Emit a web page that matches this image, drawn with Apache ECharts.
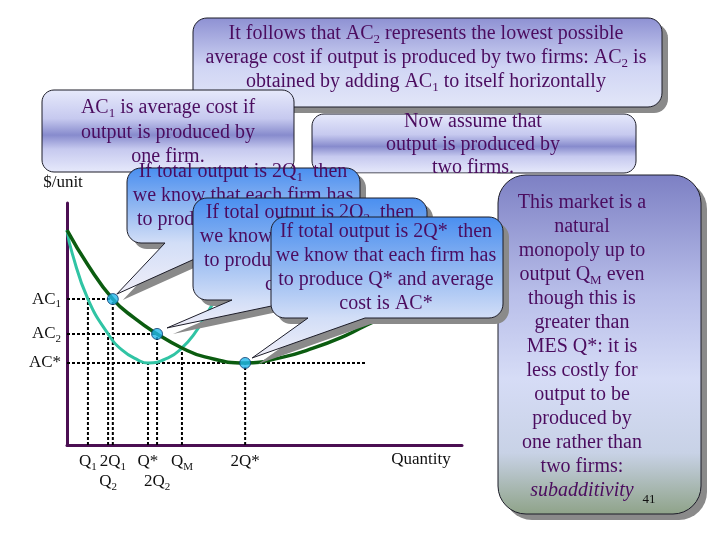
<!DOCTYPE html>
<html>
<head>
<meta charset="utf-8">
<script src="https://cdn.jsdelivr.net/npm/echarts@6/dist/echarts.min.js"></script>
<style>
  html, body { margin: 0; background: #fff; }
  #chart { width: 720px; height: 540px; }
</style>
</head>
<body>
<div id="chart"></div>
<script>
// Natural monopoly / subadditivity slide, redrawn with echarts.
// Curves are in chart units: quantity 0..100 on x, $/unit 0..100 on y.

const SERIF = "'Liberation Serif', 'Times New Roman', serif";
const INK = '#4b0c5f';

// average cost if one firm produces everything (teal)
const oneFirmQ  = [0, 1.3, 5.3, 10.4, 13.9, 18.0, 20.5, 25.6, 29.1, 32.4, 34.9, 37.0, 40.0];
const oneFirmAC = [88.8, 79.3, 60.3, 45.9, 39.3, 35.1, 33.9, 36.0, 40.1, 46.3, 52.9, 58.7, 68.0];
// average cost if output is split between two firms (dark green)
const twoFirmQ  = [0, 5.3, 11.6, 17.0, 22.8, 29.1, 34.9, 45.1, 53.9, 62.3, 70.9, 74.9, 80.0, 88.0];
const twoFirmAC = [88.8, 74.4, 60.3, 52.5, 45.9, 40.1, 36.4, 33.9, 36.0, 40.0, 45.5, 48.8, 53.0, 62.0];

// highlighted points on the two-firm curve (2Q1, 2Q2, 2Q*)
const dotQ  = [11.6, 22.8, 45.1];
const dotAC = [60.3, 45.9, 33.9];

// cost levels on the y axis, with the x where the dotted guide stops
const acLabels   = ['AC{s|1}', 'AC{s|2}', 'AC*'];
const acLevels   = [60.3, 45.9, 33.9];
const acGuideEnd = [11.6, 22.8, 75.9];

// quantity marks on the x axis (row 1 is the second line of labels)
const qLabels   = ['Q{s|1}', '2Q{s|1}', 'Q*', 'Q{s|M}', '2Q*', 'Q{s|2}', '2Q{s|2}'];
const qValues   = [5.3, 11.6, 20.5, 29.1, 45.1, 10.4, 22.8];
const qRow      = [0, 0, 0, 0, 0, 1, 1];
const qGuideTop = [60.3, 60.3, 33.9, 40.1, 33.9, 45.9, 45.9];

// slide notes
const topNote = [
  'It follows that AC{s|2} represents the lowest possible',
  'average cost if output is produced by two firms: AC{s|2} is',
  'obtained by adding AC{s|1} to itself horizontally'
];
const oneFirmNote = ['AC{s|1} is average cost if', 'output is produced by', 'one firm.'];
const twoFirmNote = ['Now assume that', 'output is produced by', 'two firms.'];
const sideNote = [
  'This market is a', 'natural', 'monopoly up to', 'output Q{s|M} even',
  'though this is', 'greater than', 'MES Q*: it is', 'less costly for',
  'output to be', 'produced by', 'one rather than', 'two firms:', '{i|subadditivity}'
];
const calloutQ1 = ['If total output is 2Q{s|1}  then', 'we know that each firm has', 'to produce Q{s|1} and average', 'cost is AC{s|1}'];
const calloutQ2 = ['If total output is 2Q{s|2}  then', 'we know that each firm has', 'to produce Q{s|2} and average', 'cost is AC{s|2}'];
const calloutQs = ['If total output is 2Q*  then', 'we know that each firm has', 'to produce Q* and average', 'cost is AC*'];

const chart = echarts.init(document.getElementById('chart'));

function guide(data) {
  return {
    type: 'line', data, symbol: 'none', silent: true, z: 1,
    lineStyle: { color: '#000', width: 2, type: [3, 2] }
  };
}
function curve(qs, acs, color, width) {
  return {
    type: 'line', data: qs.map((q, i) => [q, acs[i]]), smooth: 0.5,
    symbol: 'none', silent: true, z: 2,
    lineStyle: { color, width }
  };
}

const series = [];
acLevels.forEach((lvl, i) => series.push(guide([[0, lvl], [acGuideEnd[i], lvl]])));
qValues.forEach((q, i) => series.push(guide([[q, 0], [q, qGuideTop[i]]])));
series.push(curve(oneFirmQ, oneFirmAC, '#30c4a4', 3));
series.push(curve(twoFirmQ, twoFirmAC, '#0b5c10', 3.5));
series.push({
  type: 'scatter', data: dotQ.map((q, i) => [q, dotAC[i]]), symbolSize: 11, z: 5, silent: true,
  itemStyle: { color: '#22b8ec', borderColor: '#0b3a6e', borderWidth: 1 }
});

const axisCommon = {
  type: 'value', min: 0, max: 100,
  axisLine: { show: true, onZero: false, lineStyle: { color: '#4b0f52', width: 3 } },
  axisTick: { show: false }, axisLabel: { show: false }, splitLine: { show: false }
};

chart.setOption({
  animation: false,
  grid: { left: 67, right: 258, top: 203, bottom: 95 },
  xAxis: axisCommon,
  yAxis: axisCommon,
  series
});

// ---- annotations -------------------------------------------------------
const px = (q, c) => chart.convertToPixel({ gridIndex: 0 }, [q, c]);

function textStyle(text, x, y, size, color, align) {
  const sub = Math.round(size * 0.65);
  return {
    text, x, y, fill: color,
    fontSize: size, fontFamily: SERIF, lineHeight: size + 4,
    align, textAlign: align, verticalAlign: 'middle', textVerticalAlign: 'middle',
    rich: {
      s: { fontSize: sub, fontFamily: SERIF, fill: color, lineHeight: sub + 1, verticalAlign: 'bottom' },
      i: { fontSize: size, fontFamily: SERIF, fontStyle: 'italic', fill: color, lineHeight: size + 4 }
    }
  };
}

// rounded box outline, optionally with a speech pointer on the bottom edge
function outline(b, ptr) {
  const [x, y, w, h, r] = b;
  const pts = [];
  const arc = (cx, cy, a0, a1) => {
    for (let i = 0; i <= 8; i++) {
      const a = a0 + (a1 - a0) * i / 8;
      pts.push([cx + r * Math.cos(a), cy + r * Math.sin(a)]);
    }
  };
  arc(x + r, y + r, Math.PI, 1.5 * Math.PI);
  arc(x + w - r, y + r, 1.5 * Math.PI, 2 * Math.PI);
  arc(x + w - r, y + h - r, 0, 0.5 * Math.PI);
  if (ptr) pts.push([ptr.x2, y + h], [ptr.tx, ptr.ty], [ptr.x1, y + h]);
  arc(x + r, y + h - r, 0.5 * Math.PI, Math.PI);
  return pts;
}

const graphics = [];
let z = 10;

function addBox(b, fill, ptr, shadow = true) {
  const pts = outline(b, ptr);
  if (shadow) {
    graphics.push({ type: 'polygon', z: z++, silent: true,
      shape: { points: pts.map(p => [p[0] + 6, p[1] + 6]) }, style: { fill: '#8a8a8a' } });
  }
  graphics.push({ type: 'polygon', z: z++, silent: true,
    shape: { points: pts }, style: { fill, stroke: '#1c1c28', lineWidth: 1 } });
}
function addLines(lines, cx, y0, step, size) {
  lines.forEach((t, i) => graphics.push({
    type: 'text', z: z++, silent: true, style: textStyle(t, cx, y0 + i * step, size, INK, 'center')
  }));
}
const grad = (y0, y1, stops) =>
  new echarts.graphic.LinearGradient(0, y0, 0, y1, stops.map(s => ({ offset: s[0], color: s[1] })), true);

const metal = (b) => grad(b[1], b[1] + b[3], [[0, '#e6e9fb'], [0.35, '#c6c9ef'], [0.55, '#878bcd'], [0.72, '#c6c9ef'], [1, '#e6e9fb']]);

// top note
const topBox = [193, 18, 469, 89, 14];
addBox(topBox, grad(18, 107, [[0, '#8e91d3'], [0.55, '#d0d5f4'], [1, '#e2e6f8']]));
addLines(topNote, 426, 34, 24, 20);

// one-firm note
const oneBox = [42, 90, 252, 82, 12];
addBox(oneBox, metal(oneBox), null, false);
addLines(oneFirmNote, 168, 108, 24.5, 20);

// two-firm note (its last line is cut off at the box edge)
const twoBox = [312, 114, 324, 59, 12];
addBox(twoBox, metal(twoBox), null, false);
addLines(twoFirmNote, 473, 122, 23, 20);
graphics.push({ type: 'rect', z: z++, silent: true,
  shape: { x: 330, y: 173.5, width: 167, height: 8 }, style: { fill: '#fff' } });

// side note
const sideBox = [498, 175, 203, 339, 28];
addBox(sideBox, grad(175, 514, [[0, '#7d80c4'], [0.35, '#b8bee9'], [0.6, '#d6dcf6'], [0.82, '#c8d2e6'], [1, '#8fa389']]));
addLines(sideNote, 582, 203, 24, 20);
graphics.push({ type: 'text', z: z++, silent: true, style: textStyle('41', 649, 500, 13, '#111', 'center') });

// speech callouts pointing at the dots
const callouts = [
  { box: [127, 168, 233, 75, 14], base: [165, 230], dot: 0, off: [4, -5], lines: calloutQ1, cx: 243, y0: 172 },
  { box: [193, 198, 234, 102, 14], base: [232, 300], dot: 1, off: [10, -6], lines: calloutQ2, cx: 310, y0: 213 },
  { box: [271, 217, 232, 101, 14], base: [308, 365], dot: 2, off: [7, -5], lines: calloutQs, cx: 386, y0: 232 }
];
callouts.forEach(c => {
  const d = px(dotQ[c.dot], dotAC[c.dot]);
  const tip = { x1: c.base[0], x2: c.base[1], tx: d[0] + c.off[0], ty: d[1] + c.off[1] };
  const top = c.box[1], bot = c.box[1] + c.box[3];
  const f = (bot - top) / (tip.ty - top);
  addBox(c.box, grad(top, tip.ty, [[0, '#4a8ff0'], [f * 0.5, '#8fb6f1'], [f, '#d2def7'], [1, '#f0eef8']]), tip);
  addLines(c.lines, c.cx, c.y0, 24, 20);
});

// axis labels
graphics.push({ type: 'text', z: 2, silent: true, style: textStyle('$/unit', 63, 183, 17, '#111', 'center') });
graphics.push({ type: 'text', z: 2, silent: true, style: textStyle('Quantity', 421, 460, 17, '#111', 'center') });
acLabels.forEach((t, i) => {
  const p = px(0, acLevels[i]);
  graphics.push({ type: 'text', z: 2, silent: true, style: textStyle(t, p[0] - 6, p[1], 17, '#111', 'right') });
});
qLabels.forEach((t, i) => {
  const p = px(qValues[i], 0);
  graphics.push({ type: 'text', z: 2, silent: true, style: textStyle(t, p[0], p[1] + (qRow[i] ? 37 : 17), 17, '#111', 'center') });
});

chart.setOption({ graphic: { elements: graphics } });
</script>
</body>
</html>
